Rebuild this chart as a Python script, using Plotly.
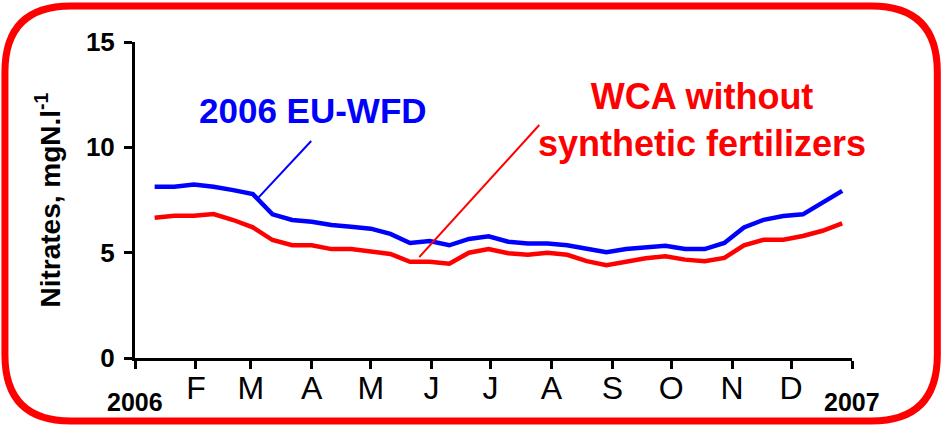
import plotly.graph_objects as go

# sampling dates (day of year, every 10 days)
days = [10, 20, 30, 40, 50, 60, 70, 80, 90, 100, 110, 120,
        130, 140, 150, 160, 170, 180, 190, 200, 210, 220, 230, 240,
        250, 260, 270, 280, 290, 300, 310, 320, 330, 340, 350, 360]

# 2006 EU-WFD scenario
wfd = [8.13, 8.13, 8.23, 8.13, 7.97, 7.78, 6.82, 6.55, 6.47, 6.31, 6.23, 6.14,
       5.89, 5.46, 5.55, 5.35, 5.65, 5.78, 5.52, 5.44, 5.44, 5.35, 5.19, 5.02,
       5.17, 5.25, 5.33, 5.17, 5.17, 5.46, 6.20, 6.56, 6.74, 6.82, 7.39, 7.93]

# WCA without synthetic fertilizers
wca = [6.66, 6.75, 6.75, 6.83, 6.55, 6.20, 5.60, 5.35, 5.35, 5.17, 5.17, 5.08,
       4.94, 4.57, 4.57, 4.48, 5.00, 5.17, 4.97, 4.90, 5.00, 4.90, 4.60, 4.40,
       4.57, 4.73, 4.83, 4.67, 4.59, 4.75, 5.35, 5.61, 5.61, 5.79, 6.04, 6.39]

month_ticks = [0, 31, 59, 90, 120, 151, 181, 212, 243, 273, 304, 334, 365]
month_labels = ['', 'F', 'M', 'A', 'M', 'J', 'J', 'A', 'S', 'O', 'N', 'D', '']
y_ticks = [0, 5, 10, 15]

FONT = 'Liberation Sans, Arial, sans-serif'
BLUE = '#0000ff'
RED = '#ff0000'

fig = go.Figure()

fig.add_trace(go.Scatter(x=days, y=wfd, mode='lines', name='2006 EU-WFD',
                         line=dict(color=BLUE, width=4.5)))
fig.add_trace(go.Scatter(x=days, y=wca, mode='lines', name='WCA without synthetic fertilizers',
                         line=dict(color=RED, width=4.5)))

# pointer lines from the labels to the curves
fig.add_shape(type='line', x0=62.7, y0=7.6, x1=89.7, y1=10.3,
              line=dict(color=BLUE, width=2))
fig.add_shape(type='line', x0=144.7, y0=4.79, x1=205.8, y1=11.06,
              line=dict(color=RED, width=2))

# rounded red frame (pixel coords converted to paper units)
def px(x):
    return (x - 135) / 716.7

def py(y):
    return (358 - y) / 316.0

L, R, T, B, r = 5, 937, 6, 421, 66
path = (f'M {px(L + r)} {py(T)} L {px(R - r)} {py(T)} '
        f'Q {px(R)} {py(T)} {px(R)} {py(T + r)} L {px(R)} {py(B - r)} '
        f'Q {px(R)} {py(B)} {px(R - r)} {py(B)} L {px(L + r)} {py(B)} '
        f'Q {px(L)} {py(B)} {px(L)} {py(B - r)} L {px(L)} {py(T + r)} '
        f'Q {px(L)} {py(T)} {px(L + r)} {py(T)} Z')
fig.add_shape(type='path', path=path, xref='paper', yref='paper',
              line=dict(color=RED, width=7), layer='above')

def label(text, x, y, size, color):
    fig.add_annotation(text=text, x=px(x), y=py(y), xref='paper', yref='paper',
                       xanchor='center', yanchor='middle', showarrow=False, align='center',
                       font=dict(family=FONT, size=size, color=color, weight='bold'))

label('2006 EU-WFD', 313, 110, 35, BLUE)
label('WCA without<br>synthetic fertilizers', 702, 120, 36, RED)
label('2006', 135, 402, 25, 'black')
label('2007', 852, 402, 25, 'black')

fig.update_xaxes(range=[0, 365], tickvals=month_ticks, ticktext=month_labels,
                 ticks='outside', ticklen=8, tickwidth=3, tickcolor='black',
                 showline=True, linewidth=3, linecolor='black',
                 showgrid=False, zeroline=False, automargin=False, ticklabelstandoff=-8,
                 tickfont=dict(family=FONT, size=32, color='black'))
fig.update_yaxes(range=[0, 15], tickvals=y_ticks,
                 ticks='outside', ticklen=8, tickwidth=3, tickcolor='black',
                 showline=True, linewidth=3, linecolor='black',
                 showgrid=False, zeroline=False, ticklabelstandoff=4, automargin=False,
                 tickfont=dict(family=FONT, size=26, color='black', weight='bold'),
                 title=dict(text='Nitrates, mgN.l<sup>-1</sup>', standoff=18,
                            font=dict(family=FONT, size=28, color='black', weight='bold')))

fig.update_layout(width=941, height=427, showlegend=False,
                  margin=dict(l=135, r=89, t=42, b=69),
                  plot_bgcolor='white', paper_bgcolor='white')

fig.write_html('out.html', config={'displayModeBar': False},
               post_script="document.body.style.margin='0';")
